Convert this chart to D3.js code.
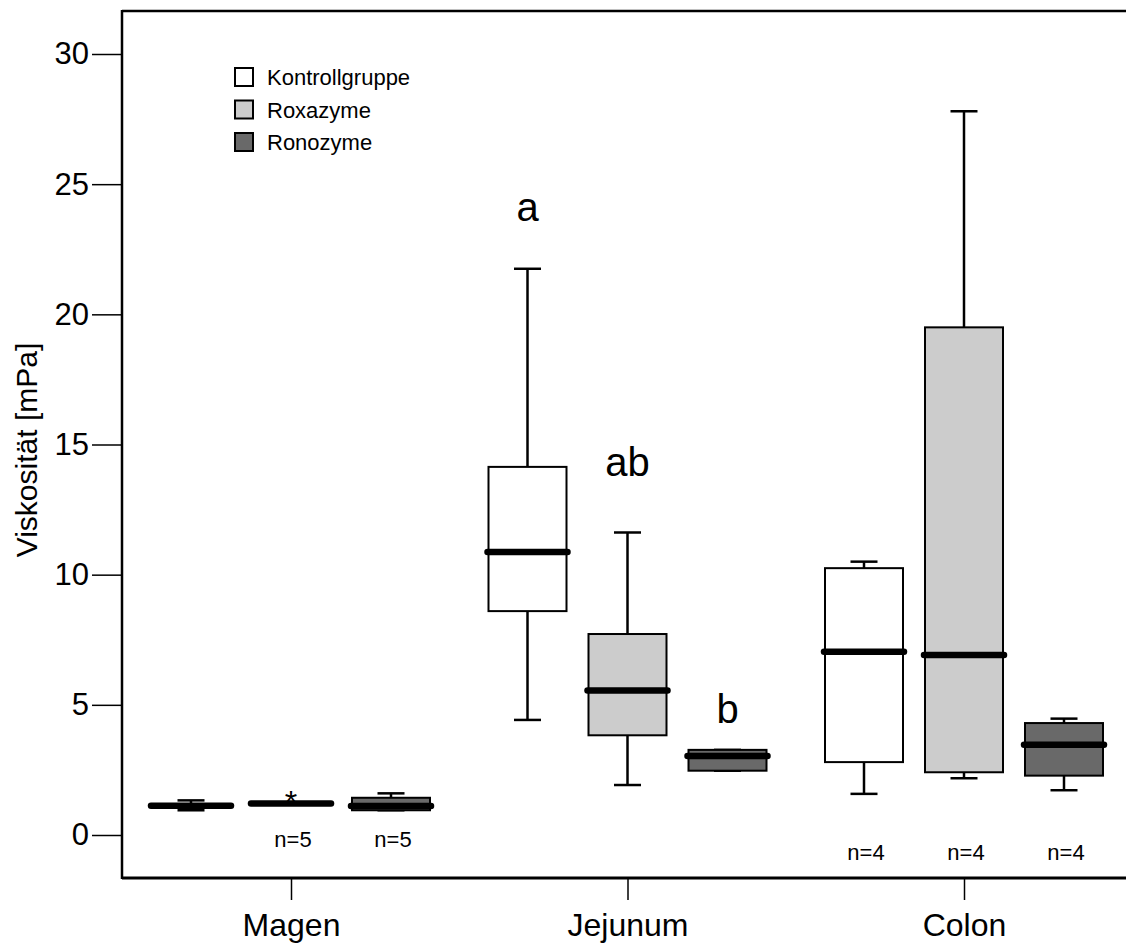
<!DOCTYPE html>
<html>
<head>
<meta charset="utf-8">
<script src="https://cdn.jsdelivr.net/npm/d3@7/dist/d3.min.js"></script>
<style>
  body { margin: 0; background: #fff; }
  svg text { font-family: "Liberation Sans", Arial, Helvetica, sans-serif; fill: #000; }
</style>
</head>
<body>
<div id="chart"></div>
<script>
// regions along x, treatment groups inside each region
const regions = ['Magen', 'Jejunum', 'Colon'];
const groups = ['Kontrollgruppe', 'Roxazyme', 'Ronozyme'];
const fills = ['#ffffff', '#cccccc', '#696969'];

// box stats, region-major order (Magen ctrl, rox, rono, Jejunum ..., Colon ...)
const whiskerLow  = [0.95, 1.17, 0.95,  4.42, 1.92, 2.47,  1.58, 2.18, 1.72];
const quart1      = [1.08, 1.19, 0.95,  8.60, 3.83, 2.47,  2.80, 2.41, 2.28];
const medians     = [1.12, 1.21, 1.11, 10.87, 5.55, 3.03,  7.04, 6.91, 3.47];
const quart3      = [1.17, 1.23, 1.43, 14.14, 7.72, 3.27, 10.25, 19.50, 4.30];
const whiskerHigh = [1.33, 1.25, 1.60, 21.75, 11.62, 3.27, 10.50, 27.80, 4.47];

// extreme value (asterisk), Magen Roxazyme
const extremes = [{ region: 'Magen', group: 'Roxazyme', value: 1.45 }];

// significance letters and sample sizes
const sigLetters = [
  { region: 'Jejunum', group: 'Kontrollgruppe', label: 'a', value: 23.6 },
  { region: 'Jejunum', group: 'Roxazyme', label: 'ab', value: 13.8 },
  { region: 'Jejunum', group: 'Ronozyme', label: 'b', value: 4.3 }
];
const nLabels = [
  { region: 'Magen', group: 'Roxazyme', label: 'n=5', value: -0.45 },
  { region: 'Magen', group: 'Ronozyme', label: 'n=5', value: -0.45 },
  { region: 'Colon', group: 'Kontrollgruppe', label: 'n=4', value: -0.95 },
  { region: 'Colon', group: 'Roxazyme', label: 'n=4', value: -0.95 },
  { region: 'Colon', group: 'Ronozyme', label: 'n=4', value: -0.95 }
];
const yTicks = [0, 5, 10, 15, 20, 25, 30];

const width = 1126, height = 944;
const frameLeft = 122, frameTop = 11, frameBottom = 878;
const boxW = 78, capW = 27;

const svg = d3.select('#chart').append('svg')
  .attr('width', width)
  .attr('height', height);

const y = d3.scaleLinear().domain([0, 30]).range([835, 54]);
const x = d3.scalePoint().domain(regions).range([291, 964]);
const offset = d3.scalePoint().domain(groups).range([-100, 100]);
const cx = (r, g) => x(r) + offset(g);

const boxes = [];
regions.forEach((r, i) => {
  groups.forEach((g, j) => {
    const k = i * groups.length + j;
    boxes.push({
      region: r, group: g, fill: fills[j],
      lo: whiskerLow[k], q1: quart1[k], med: medians[k], q3: quart3[k], hi: whiskerHigh[k]
    });
  });
});

// frame
svg.append('line').attr('x1', frameLeft).attr('x2', width + 5).attr('y1', frameTop).attr('y2', frameTop)
  .attr('stroke', '#000').attr('stroke-width', 2.5);
svg.append('line').attr('x1', frameLeft).attr('x2', width + 5).attr('y1', frameBottom).attr('y2', frameBottom)
  .attr('stroke', '#000').attr('stroke-width', 3);
svg.append('line').attr('x1', frameLeft).attr('x2', frameLeft).attr('y1', frameTop - 1).attr('y2', frameBottom + 1)
  .attr('stroke', '#000').attr('stroke-width', 2.5);

// y axis
const yAxis = svg.append('g')
  .attr('transform', `translate(${frameLeft},0)`)
  .call(d3.axisLeft(y).tickValues(yTicks).tickSize(30).tickPadding(3));
yAxis.select('.domain').remove();
yAxis.selectAll('line').attr('stroke-width', 1.5);
yAxis.selectAll('text').attr('font-size', 31).attr('font-family', null);

// x axis
const xAxis = svg.append('g')
  .attr('transform', `translate(0,${frameBottom})`)
  .call(d3.axisBottom(x).tickSize(22).tickPadding(13));
xAxis.select('.domain').remove();
xAxis.selectAll('line').attr('stroke-width', 1.5);
xAxis.selectAll('text').attr('font-size', 32).attr('font-family', null);

svg.append('text')
  .attr('transform', `translate(37,450) rotate(-90)`)
  .attr('text-anchor', 'middle')
  .attr('font-size', 30)
  .text('Viskosität [mPa]');

// boxes
const bx = svg.append('g').selectAll('g').data(boxes).enter().append('g')
  .attr('transform', d => `translate(${cx(d.region, d.group)},0)`);

bx.append('line')
  .attr('y1', d => y(d.q3)).attr('y2', d => y(d.hi))
  .attr('stroke', '#000').attr('stroke-width', 2.5);
bx.append('line')
  .attr('y1', d => y(d.q1)).attr('y2', d => y(d.lo))
  .attr('stroke', '#000').attr('stroke-width', 2.5);
bx.append('line')
  .attr('x1', -capW / 2).attr('x2', capW / 2)
  .attr('y1', d => y(d.hi)).attr('y2', d => y(d.hi))
  .attr('stroke', '#000').attr('stroke-width', 2.5);
bx.append('line')
  .attr('x1', -capW / 2).attr('x2', capW / 2)
  .attr('y1', d => y(d.lo)).attr('y2', d => y(d.lo))
  .attr('stroke', '#000').attr('stroke-width', 2.5);
bx.append('rect')
  .attr('x', -boxW / 2).attr('width', boxW)
  .attr('y', d => y(d.q3))
  .attr('height', d => y(d.q1) - y(d.q3))
  .attr('fill', d => d.fill)
  .attr('stroke', '#000').attr('stroke-width', 2);
bx.append('line')
  .attr('x1', -boxW / 2 - 1).attr('x2', boxW / 2 + 1)
  .attr('y1', d => y(d.med)).attr('y2', d => y(d.med))
  .attr('stroke', '#000').attr('stroke-width', 6.5).attr('stroke-linecap', 'round');

// extremes
svg.append('g').selectAll('text').data(extremes).enter().append('text')
  .attr('x', d => cx(d.region, d.group))
  .attr('y', d => y(d.value) + 16)
  .attr('text-anchor', 'middle')
  .attr('font-size', 32)
  .text('*');

// letters
svg.append('g').selectAll('text').data(sigLetters).enter().append('text')
  .attr('x', d => cx(d.region, d.group))
  .attr('y', d => y(d.value))
  .attr('text-anchor', 'middle')
  .attr('font-size', 40)
  .text(d => d.label);

// n labels
svg.append('g').selectAll('text').data(nLabels).enter().append('text')
  .attr('x', d => cx(d.region, d.group) + 2)
  .attr('y', d => y(d.value))
  .attr('text-anchor', 'middle')
  .attr('font-size', 22)
  .text(d => d.label);

// legend
const legend = svg.append('g').selectAll('g').data(groups).enter().append('g')
  .attr('transform', (d, i) => `translate(235,${77 + i * 32.5})`);
legend.append('rect')
  .attr('x', 0).attr('y', -9).attr('width', 18).attr('height', 18)
  .attr('fill', (d, i) => fills[i])
  .attr('stroke', '#000').attr('stroke-width', 2);
legend.append('text')
  .attr('x', 32).attr('y', 8)
  .attr('font-size', 22)
  .text(d => d);
</script>
</body>
</html>
